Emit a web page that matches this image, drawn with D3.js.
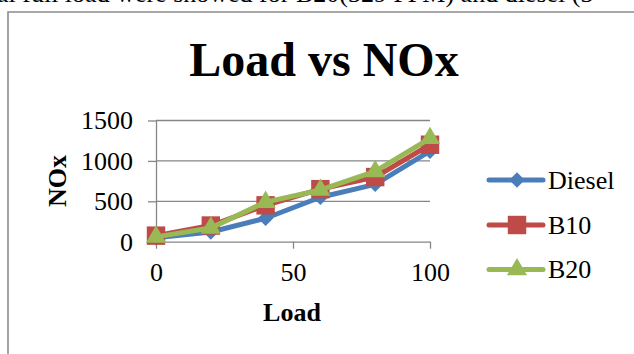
<!DOCTYPE html>
<html>
<head>
<meta charset="utf-8">
<script src="https://cdn.jsdelivr.net/npm/d3@7"></script>
<style>
  body { margin: 0; background: #fff; }
  svg { display: block; }
</style>
</head>
<body>
<svg id="chart" width="634" height="354"></svg>
<script>
// ** Data **
const loads = [0, 20, 40, 60, 80, 100];
const dieselNox = [50, 120, 290, 550, 710, 1120];
const b10Nox = [75, 200, 450, 650, 800, 1200];
const b20Nox = [60, 170, 490, 640, 870, 1280];
const xTickValues = [0, 50, 100];
const yTickValues = [0, 500, 1000, 1500];
const seriesNames = ["Diesel", "B10", "B20"];

// ** Constants **
const serif = "'Liberation Serif', 'Times New Roman', serif";
const gridColor = "#868686";
const lineWidth = 5;

var series = [
	{ name: seriesNames[0], values: dieselNox, color: "#4a7ebb", shape: "diamond" },
	{ name: seriesNames[1], values: b10Nox, color: "#be4b48", shape: "square" },
	{ name: seriesNames[2], values: b20Nox, color: "#98b954", shape: "triangle" }
];

let svg = d3.select("#chart");

let x = d3.scaleLinear().domain([0, 100]).range([156, 430]);
let y = d3.scaleLinear().domain([0, 1500]).range([241.7, 120.5]);

// clipped line of the page text above the chart
svg.append("text")
	.attr("x", -3)
	.attr("y", 2)
	.style("font-family", serif)
	.style("font-size", "26px")
	.text("al full load were showed for B20(329 PPM) and diesel (3");

// chart frame
svg.append("path")
	.attr("d", "M8,360V12H640")
	.attr("fill", "none")
	.attr("stroke", "#8c8c8c")
	.attr("stroke-width", 1.6);

// title
svg.append("text")
	.attr("x", 324)
	.attr("y", 76)
	.attr("text-anchor", "middle")
	.style("font-family", serif)
	.style("font-size", "48px")
	.style("font-weight", "bold")
	.text("Load vs NOx");

// gridlines
svg.append("g")
	.selectAll("line")
	.data(yTickValues.filter(d => d > 0))
	.join("line")
	.attr("x1", x(0)).attr("x2", x(100))
	.attr("y1", d => y(d)).attr("y2", d => y(d))
	.attr("stroke", gridColor)
	.attr("stroke-width", 1.3);

// axes
let yAxis = svg.append("g")
	.attr("transform", `translate(${x(0)},0)`)
	.call(d3.axisLeft(y).tickValues(yTickValues).tickFormat(d3.format("d"))
		.tickSize(8).tickPadding(15).tickSizeOuter(0));

let xAxis = svg.append("g")
	.attr("transform", `translate(0,${y(0)})`)
	.call(d3.axisBottom(x).tickValues(xTickValues).tickFormat(d3.format("d"))
		.tickSize(7).tickPadding(14).tickSizeOuter(0));

[yAxis, xAxis].forEach(function(ax) {
	ax.select(".domain").attr("stroke", gridColor).attr("stroke-width", 1.3);
	ax.selectAll(".tick line").attr("stroke", gridColor).attr("stroke-width", 1.3);
	ax.selectAll("text")
		.attr("fill", "#000")
		.style("font-family", serif)
		.style("font-size", "26px");
});

// axis titles
svg.append("text")
	.attr("transform", "translate(66,181) rotate(-90)")
	.attr("text-anchor", "middle")
	.style("font-family", serif)
	.style("font-size", "26px")
	.style("font-weight", "bold")
	.text("NOx");

svg.append("text")
	.attr("x", 292)
	.attr("y", 320.5)
	.attr("text-anchor", "middle")
	.style("font-family", serif)
	.style("font-size", "26px")
	.style("font-weight", "bold")
	.text("Load");

// marker shape generator
function markerPath(shape) {
	if (shape == "diamond") return d3.symbol(d3.symbolSquare, 120)();
	if (shape == "square") return d3.symbol(d3.symbolSquare, 340)();
	return d3.symbol(d3.symbolTriangle, 175)();
}

function markerRotate(shape) {
	return shape == "diamond" ? " rotate(45)" : "";
}

let line = d3.line()
	.x((d, i) => x(loads[i]))
	.y(d => y(d));

// plot each series: line then markers
series.forEach(function(s) {
	let g = svg.append("g");
	g.append("path")
		.attr("d", line(s.values))
		.attr("fill", "none")
		.attr("stroke", s.color)
		.attr("stroke-width", lineWidth)
		.attr("stroke-linejoin", "round")
		.attr("stroke-linecap", "round");
	g.selectAll(".marker")
		.data(s.values)
		.join("path")
		.attr("class", "marker")
		.attr("d", markerPath(s.shape))
		.attr("transform", (d, i) => `translate(${x(loads[i])},${y(d)})` + markerRotate(s.shape))
		.attr("fill", s.color);
});

// legend
let legendRows = [180, 225, 269.5];
let legend = svg.append("g");
series.forEach(function(s, i) {
	let ly = legendRows[i];
	legend.append("line")
		.attr("x1", 489).attr("x2", 543)
		.attr("y1", ly).attr("y2", ly)
		.attr("stroke", s.color)
		.attr("stroke-width", lineWidth)
		.attr("stroke-linecap", "round");
	legend.append("path")
		.attr("d", markerPath(s.shape))
		.attr("transform", `translate(517,${ly})` + markerRotate(s.shape))
		.attr("fill", s.color);
	legend.append("text")
		.attr("x", 548)
		.attr("y", ly + 8.5)
		.style("font-family", serif)
		.style("font-size", "26px")
		.text(s.name);
});
</script>
</body>
</html>
